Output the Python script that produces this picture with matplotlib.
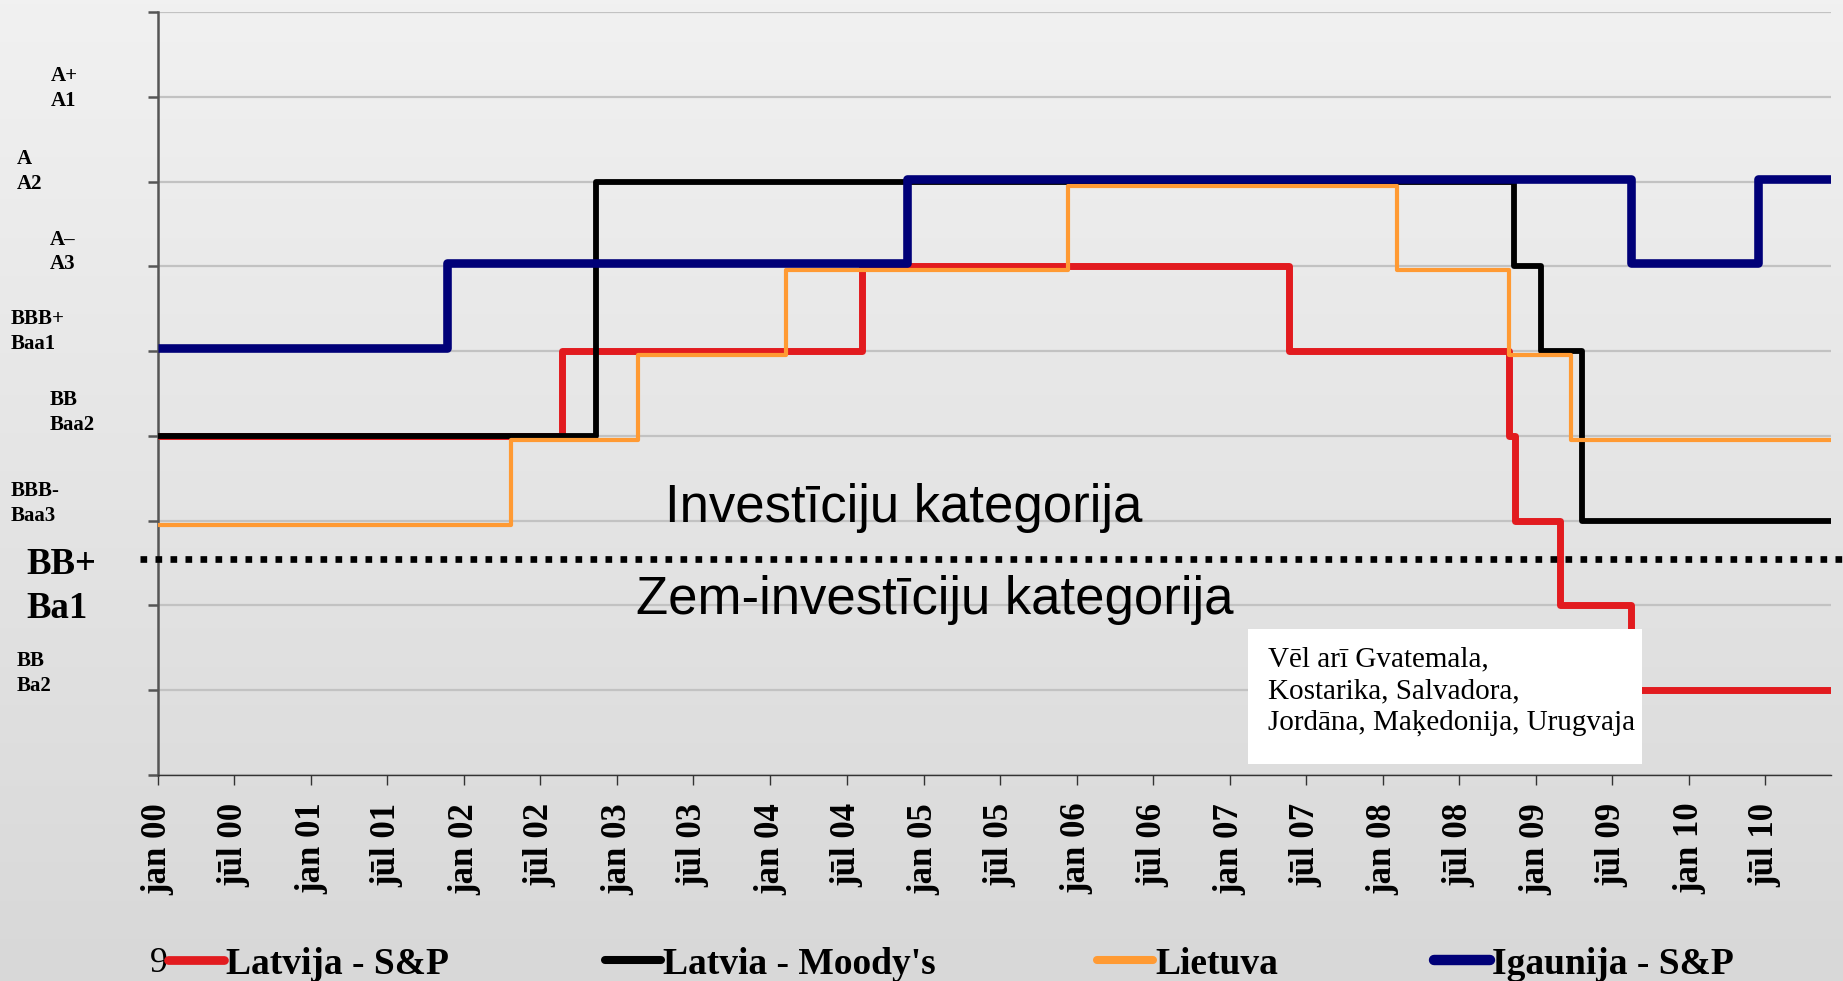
import matplotlib
matplotlib.use('Agg')
import matplotlib.pyplot as plt
import matplotlib.transforms as mtransforms
from matplotlib.patches import Rectangle
from matplotlib.lines import Line2D
import numpy as np
import pandas as pd

# ---------------- data ----------------
start_date = '2000-01-01'
end_date = '2010-12-05'
tick_labels = ['jan 00', 'jūl 00', 'jan 01', 'jūl 01', 'jan 02', 'jūl 02', 'jan 03', 'jūl 03',
               'jan 04', 'jūl 04', 'jan 05', 'jūl 05', 'jan 06', 'jūl 06', 'jan 07', 'jūl 07',
               'jan 08', 'jūl 08', 'jan 09', 'jūl 09', 'jan 10', 'jūl 10']
rating_levels = [1, 2, 3, 4, 5, 6, 7, 8]
rating_labels = ['BB\nBa2', 'BB+\nBa1', 'BBB-\nBaa3', 'BB\nBaa2', 'BBB+\nBaa1', 'A–\nA3', 'A\nA2', 'A+\nA1']
investment_boundary = 2.55

series_names = ['Latvija - S&P', "Latvia - Moody's", 'Lietuva', 'Igaunija - S&P']

lv_sp_dates = ['2000-01-01', '2002-08-21', '2004-08-07', '2007-05-21', '2008-10-28',
               '2008-11-12', '2009-02-27', '2009-08-15']
lv_sp_levels = [4, 5, 6, 5, 4, 3, 2, 1]

lv_moody_dates = ['2000-01-01', '2002-11-12', '2008-11-09', '2009-01-12', '2009-04-21']
lv_moody_levels = [4, 7, 6, 5, 3]

lt_dates = ['2000-01-01', '2002-04-21', '2003-02-18', '2004-02-06', '2005-12-10',
            '2008-02-03', '2008-10-28', '2009-03-25']
lt_levels = [3, 4, 5, 6, 7, 6, 5, 4]

ee_sp_dates = ['2000-01-01', '2001-11-21', '2004-11-21', '2009-08-15', '2010-06-15']
ee_sp_levels = [5, 6, 7, 6, 7]

text_invest = 'Investīciju kategorija'
text_subinvest = 'Zem-investīciju kategorija'
note_text = 'Vēl arī Gvatemala,\nKostarika, Salvadora,\nJordāna, Maķedonija, Urugvaja'
slide_number = '9'

# ---------------- styles ----------------
W, H = 1843, 981
fig = plt.figure(figsize=(W / 100, H / 100), dpi=100)

# gradient background
bg = fig.add_axes([0, 0, 1, 1], zorder=-10)
g = np.linspace(241, 216, 256) / 255.0
grad = np.dstack([g, g, g]).reshape(256, 1, 3)
bg.imshow(grad, aspect='auto', extent=[0, 1, 0, 1], origin='upper')
bg.set_axis_off()

ax = fig.add_axes([158 / W, 1 - 775 / H, (1831 - 158) / W, (775 - 12) / H])
ax.patch.set_alpha(0)

serif = 'Liberation Serif'
sans = 'Liberation Sans'

colors = ['#E21B1F', '#000000', '#FF9A33', '#000078']
widths = [5.0, 4.2, 3.0, 6.2]
# small vertical drawing offsets (pixels) so overlapping lines stay visible, as on the slide
pix_offsets = [0.0, 0.0, -4.0, 3.0]
all_dates = [lv_sp_dates, lv_moody_dates, lt_dates, ee_sp_dates]
all_levels = [lv_sp_levels, lv_moody_levels, lt_levels, ee_sp_levels]

end_ts = pd.Timestamp(end_date)
handles = []
for i, (d, lv) in enumerate(zip(all_dates, all_levels)):
    x = list(pd.to_datetime(d)) + [end_ts]
    y = list(lv) + [lv[-1]]
    tr = ax.transData + mtransforms.ScaledTranslation(0, pix_offsets[i] / 100, fig.dpi_scale_trans)
    ln, = ax.step(x, y, where='post', color=colors[i], lw=widths[i], zorder=3 + i,
                  solid_joinstyle='round', solid_capstyle='butt', transform=tr)
    handles.append(ln)

ax.set_xlim(pd.Timestamp(start_date), end_ts)
ax.set_ylim(0, 9)

# grid
ax.set_yticks(range(10))
ax.set_yticklabels([])
ax.yaxis.grid(True, color='#c2c2c2', lw=1.6, zorder=1)
ax.set_axisbelow(True)
ax.tick_params(axis='y', length=7, width=1.8, color='#555555', direction='out')

ticks = pd.date_range(start_date, periods=len(tick_labels), freq='6MS')
ax.set_xticks(ticks)
ax.set_xticklabels(tick_labels, rotation=90, fontfamily=serif, fontweight='bold', fontsize=25,
                   va='top', ha='center')
ax.tick_params(axis='x', length=7, width=1.0, color='#333333', direction='out', pad=13)

for s in ['top', 'right']:
    ax.spines[s].set_visible(False)
ax.spines['left'].set_color('#555555')
ax.spines['left'].set_linewidth(1.8)
ax.spines['bottom'].set_color('#333333')
ax.spines['bottom'].set_linewidth(1.0)

# rating labels (placed as in the slide)
label_x_px = [17, 26, 11, 50, 11, 50, 17, 51]
label_dy = [0.20, 0.22, 0.20, 0.28, 0.23, 0.17, 0.12, 0.10]
label_fs = [15, 26.5, 15, 15, 15, 15, 15, 15]
btr = mtransforms.blended_transform_factory(fig.transFigure, ax.transData)
for lev, lab, xp, dy, fs in zip(rating_levels, rating_labels, label_x_px, label_dy, label_fs):
    ax.text(xp / W, lev + dy, lab, transform=btr, ha='left', va='center', fontfamily=serif,
            fontweight='bold', fontsize=fs, linespacing=1.32)

# investment grade boundary
ax.axhline(investment_boundary, xmin=-0.011, xmax=1.01, color='black', lw=4.8,
           linestyle=(0, (1.0, 1.25)), dash_capstyle='butt', clip_on=False, zorder=8)

ax.text(0.446, 0.3316, text_invest, transform=ax.transAxes, ha='center', va='baseline',
        fontfamily=sans, fontsize=38, zorder=9)
ax.text(0.464, 0.2115, text_subinvest, transform=ax.transAxes, ha='center', va='baseline',
        fontfamily=sans, fontsize=38, zorder=9)

# note box
ax.add_patch(Rectangle((0.6515, 0.0144), 0.2355, 0.1766, transform=ax.transAxes,
                       facecolor='white', edgecolor='none', zorder=10))
ax.text(0.6635, 0.1690, note_text, transform=ax.transAxes, ha='left', va='top',
        fontfamily=serif, fontsize=21, linespacing=1.3, zorder=11)

# legend (one entry per block, as laid out on the slide)
legend_x_px = [168, 605, 1097, 1434]
for h, name, xp in zip(handles, series_names, legend_x_px):
    proxy = Line2D([], [], color=h.get_color(), lw=max(h.get_linewidth(), 4.5) + 1.3,
                   solid_capstyle='round')
    fig.legend([proxy], [name], loc='center left', bbox_to_anchor=(xp / W, (H - 964) / H),
               frameon=False, prop={'family': serif, 'weight': 'bold', 'size': 27},
               handlelength=1.5, handletextpad=0.05, borderpad=0, borderaxespad=0)

fig.text(150 / W, 1 / H, slide_number, fontfamily=serif, fontsize=26, ha='left', va='bottom')

fig.savefig('out.png', dpi=100)
